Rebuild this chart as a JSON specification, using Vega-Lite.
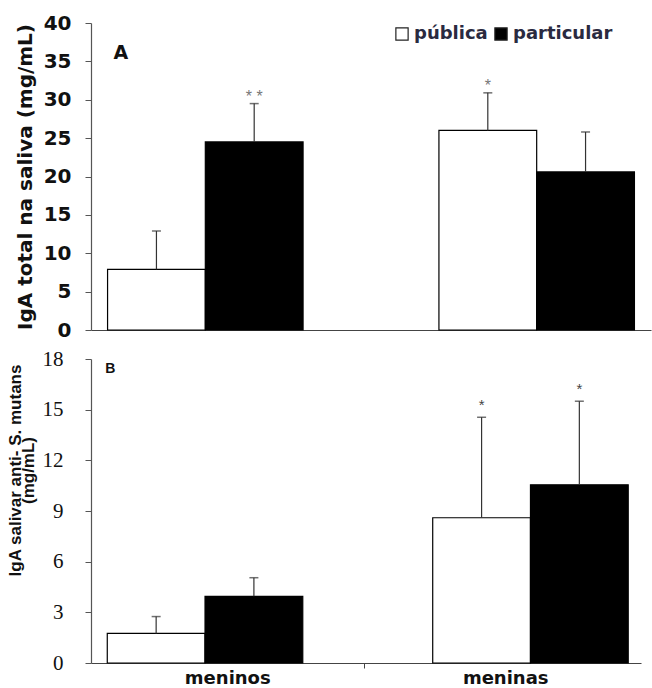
{
  "$schema": "https://vega.github.io/schema/vega-lite/v6.json",
  "background": "white",
  "padding": {"left": 6, "top": 13, "right": 0, "bottom": 0},
  "spacing": 8,
  "config": {"view": {"stroke": null}, "font": "Liberation Sans"},
  "datasets": {
    "a": [
      {"grupo": "meninos", "escola": "pública", "media": 7.9, "sup": 12.9, "sig": ""},
      {"grupo": "meninos", "escola": "particular", "media": 24.5, "sup": 29.5, "sig": "* *"},
      {"grupo": "meninas", "escola": "pública", "media": 26.0, "sup": 30.9, "sig": "*"},
      {"grupo": "meninas", "escola": "particular", "media": 20.6, "sup": 25.8, "sig": ""}
    ],
    "b": [
      {"grupo": "meninos", "escola": "pública", "media": 1.75, "sup": 2.75, "sig": ""},
      {"grupo": "meninos", "escola": "particular", "media": 3.95, "sup": 5.05, "sig": ""},
      {"grupo": "meninas", "escola": "pública", "media": 8.6, "sup": 14.55, "sig": "*"},
      {"grupo": "meninas", "escola": "particular", "media": 10.55, "sup": 15.5, "sig": "*"}
    ]
  },
  "resolve": {"legend": {"fill": "independent"}},
  "vconcat": [
    {
      "width": 560,
      "height": 307,
      "data": {"name": "a"},
      "encoding": {
        "x": {"field": "grupo", "type": "nominal", "sort": ["meninos", "meninas"],
          "scale": {"paddingInner": 0.41, "paddingOuter": 0.05},
          "axis": {"title": null, "labels": false, "ticks": false, "domainColor": "#444", "domainWidth": 1.2}},
        "xOffset": {"field": "escola", "type": "nominal", "sort": ["pública", "particular"], "scale": {"paddingInner": 0, "paddingOuter": 0}}
      },
      "layer": [
        {
          "mark": {"type": "bar", "stroke": "black", "strokeWidth": 1.2},
          "encoding": {
            "y": {"field": "media", "type": "quantitative",
              "scale": {"domain": [0, 40], "nice": false},
              "axis": {"values": [0,5,10,15,20,25,30,35,40], "tickCount": 9, "labelOverlap": false, "title": "IgA total na saliva (mg/mL)",
                "titleFont": "DejaVu Sans", "titleFontSize": 20, "titleFontWeight": "bold", "titleColor": "#111", "titlePadding": 8,
                "labelFont": "DejaVu Sans", "labelFontSize": 20, "labelFontWeight": "bold", "labelColor": "#111", "labelPadding": 14,
                "grid": false, "tickSize": 6, "tickColor": "#555", "domainColor": "#555", "domainWidth": 1.2}},
            "fill": {"field": "escola", "type": "nominal",
              "scale": {"domain": ["pública", "particular"], "range": ["white", "black"]},
              "legend": {"title": null, "orient": "none", "legendX": 302, "legendY": 2, "direction": "horizontal",
                "symbolType": "square", "symbolSize": 150, "symbolStrokeColor": "#222", "symbolStrokeWidth": 1.2,
                "labelFont": "DejaVu Sans", "labelFontSize": 18, "labelFontWeight": "bold", "labelColor": "#2a2a40", "columnPadding": 4, "labelOffset": 3}}
          }
        },
        {
          "mark": {"type": "rule", "color": "#333", "strokeWidth": 1.2},
          "encoding": {"y": {"field": "media", "type": "quantitative", "axis": {"values": [0,5,10,15,20,25,30,35,40]}}, "y2": {"field": "sup"}}
        },
        {
          "mark": {"type": "tick", "color": "#333", "size": 9, "thickness": 1.5},
          "encoding": {"y": {"field": "sup", "type": "quantitative"}}
        },
        {
          "mark": {"type": "text", "color": "#777", "fontSize": 16, "dy": 1, "baseline": "bottom"},
          "encoding": {"y": {"field": "sup", "type": "quantitative"}, "text": {"field": "sig"}}
        },
        {
          "data": {"values": [{"grupo": "meninos", "escola": "pública", "y": 36.1, "t": "A"}]},
          "mark": {"type": "text", "font": "DejaVu Sans", "fontSize": 19, "fontWeight": "bold", "color": "#111", "align": "left", "dx": -43},
          "encoding": {"y": {"field": "y", "type": "quantitative"}, "text": {"field": "t"}}
        }
      ]
    },
    {
      "width": 550,
      "height": 304,
      "data": {"name": "b"},
      "encoding": {
        "x": {"field": "grupo", "type": "nominal", "sort": ["meninos", "meninas"],
          "scale": {"paddingInner": 0.41, "paddingOuter": 0.05},
          "axis": {"title": null, "labelAngle": 0, "labelFont": "DejaVu Sans", "labelFontSize": 18, "labelFontWeight": "bold", "labelColor": "#111",
            "tickOffset": 161,
            "labelOffset": {"condition": {"test": "datum.value === 'meninos'", "value": -137}, "value": -184.5},
            "labelPadding": 1, "tickSize": 5, "tickColor": "#444", "domainColor": "#444", "domainWidth": 1.2}},
        "xOffset": {"field": "escola", "type": "nominal", "sort": ["pública", "particular"], "scale": {"paddingInner": 0, "paddingOuter": 0}}
      },
      "layer": [
        {
          "mark": {"type": "bar", "stroke": "black", "strokeWidth": 1.2},
          "encoding": {
            "y": {"field": "media", "type": "quantitative",
              "scale": {"domain": [0, 18]},
              "axis": {"values": [0,3,6,9,12,15,18], "labelOverlap": false, "title": ["IgA salivar anti- S. mutans", "(mg/mL)"],
                "titleFontSize": 17, "titleFontWeight": "bold", "titleColor": "#111", "titlePadding": 5, "titleLineHeight": 13, "titleY": 111,
                "labelFontSize": 21, "labelFont": "Liberation Sans Narrow", "labelColor": "#111", "labelPadding": 22,
                "grid": false, "tickSize": 6, "tickColor": "#555", "domainColor": "#555", "domainWidth": 1.2}},
            "fill": {"field": "escola", "type": "nominal",
              "scale": {"domain": ["pública", "particular"], "range": ["white", "black"]},
              "legend": null}
          }
        },
        {
          "mark": {"type": "rule", "color": "#333", "strokeWidth": 1.2},
          "encoding": {"y": {"field": "media", "type": "quantitative"}, "y2": {"field": "sup"}}
        },
        {
          "mark": {"type": "tick", "color": "#333", "size": 9, "thickness": 1.5},
          "encoding": {"y": {"field": "sup", "type": "quantitative"}}
        },
        {
          "mark": {"type": "text", "color": "#444", "fontSize": 15, "dy": -4, "baseline": "bottom"},
          "encoding": {"y": {"field": "sup", "type": "quantitative"}, "text": {"field": "sig"}}
        },
        {
          "data": {"values": [{"grupo": "meninos", "escola": "pública", "y": 17.4, "t": "B"}]},
          "mark": {"type": "text", "fontSize": 14, "fontWeight": "bold", "color": "#111", "align": "left", "dx": -51},
          "encoding": {"y": {"field": "y", "type": "quantitative"}, "text": {"field": "t"}}
        }
      ]
    }
  ]
}
